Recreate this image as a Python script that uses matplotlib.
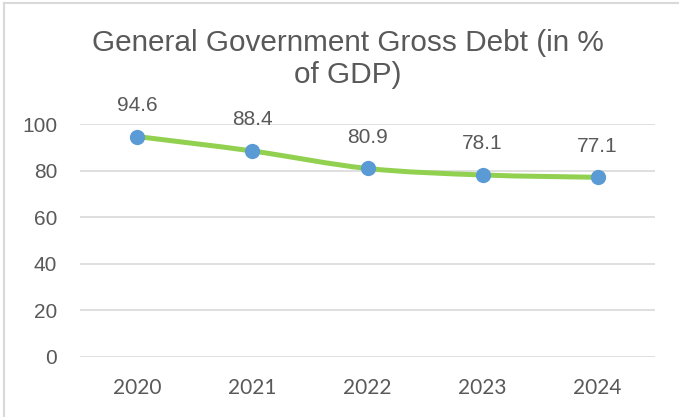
import numpy as np
import matplotlib
matplotlib.use("Agg")
import matplotlib.pyplot as plt
from matplotlib.path import Path
from matplotlib.patches import PathPatch
from matplotlib.lines import Line2D

years = ["2020", "2021", "2022", "2023", "2024"]
debt = [94.6, 88.4, 80.9, 78.1, 77.1]
yticks = [0, 20, 40, 60, 80, 100]
title = "General Government Gross Debt (in %\nof GDP)"

LINE = "#92D050"
MARK = "#5B9BD5"
GRID = "#D9D9D9"
TEXT = "#595959"

fig = plt.figure(figsize=(6.79, 4.17), dpi=100)
ax = fig.add_axes([0.1178, 0.1446, 0.8469, 0.558])

x = np.arange(len(years))
y = np.array(debt)

# Excel-style smoothed line: cubic bezier segments through the points
verts = [(x[0], y[0])]
codes = [Path.MOVETO]
t = 1.0 / 6
for i in range(len(x) - 1):
    p0 = (x[i - 1], y[i - 1]) if i > 0 else (x[i], y[i])
    p1 = (x[i], y[i])
    p2 = (x[i + 1], y[i + 1])
    p3 = (x[i + 2], y[i + 2]) if i + 2 < len(x) else p2
    c1 = (p1[0] + (p2[0] - p0[0]) * t, p1[1] + (p2[1] - p0[1]) * t)
    c2 = (p2[0] - (p3[0] - p1[0]) * t, p2[1] - (p3[1] - p1[1]) * t)
    verts += [c1, c2, p2]
    codes += [Path.CURVE4] * 3
ax.add_patch(PathPatch(Path(verts, codes), facecolor="none", edgecolor=LINE,
                       lw=3.6, capstyle="round", joinstyle="round", zorder=3))

ax.plot(x, y, linestyle="none", marker="o", ms=11, color=MARK,
        markeredgewidth=0, zorder=4, clip_on=False)

for xi, yi in zip(x, y):
    ax.annotate(f"{yi:.1f}", (xi, yi), xytext=(0, 22.5), textcoords="offset points",
                ha="center", va="center", fontsize=15, color=TEXT,
                family="Liberation Sans")

ax.set_xlim(-0.5, len(years) - 0.5)
ax.set_ylim(0, 100)
ax.set_yticks(yticks)
ax.set_xticks(x)
ax.set_xticklabels(years, family="Lato", fontsize=15, color=TEXT)
ax.set_yticklabels([str(v) for v in yticks], family="Liberation Sans",
                   fontsize=15, color=TEXT)
ax.tick_params(length=0)
ax.tick_params(axis="x", pad=15)
ax.tick_params(axis="y", pad=16.5)
ax.grid(axis="y", color=GRID, lw=1.2)
ax.set_axisbelow(True)
for s in ax.spines.values():
    s.set_visible(False)

fig.text(0.512, 0.858, title, ha="center", va="center", fontsize=21.4,
         color=TEXT, family="Liberation Sans", linespacing=1.18)

# chart border (left and top edges visible)
fig.add_artist(Line2D([4 / 679, 4 / 679], [0, 1 - 3 / 417], color=GRID, lw=1.5))
fig.add_artist(Line2D([4 / 679, 1], [1 - 3 / 417, 1 - 3 / 417], color=GRID, lw=1.5))

fig.savefig("out.png", dpi=100)
